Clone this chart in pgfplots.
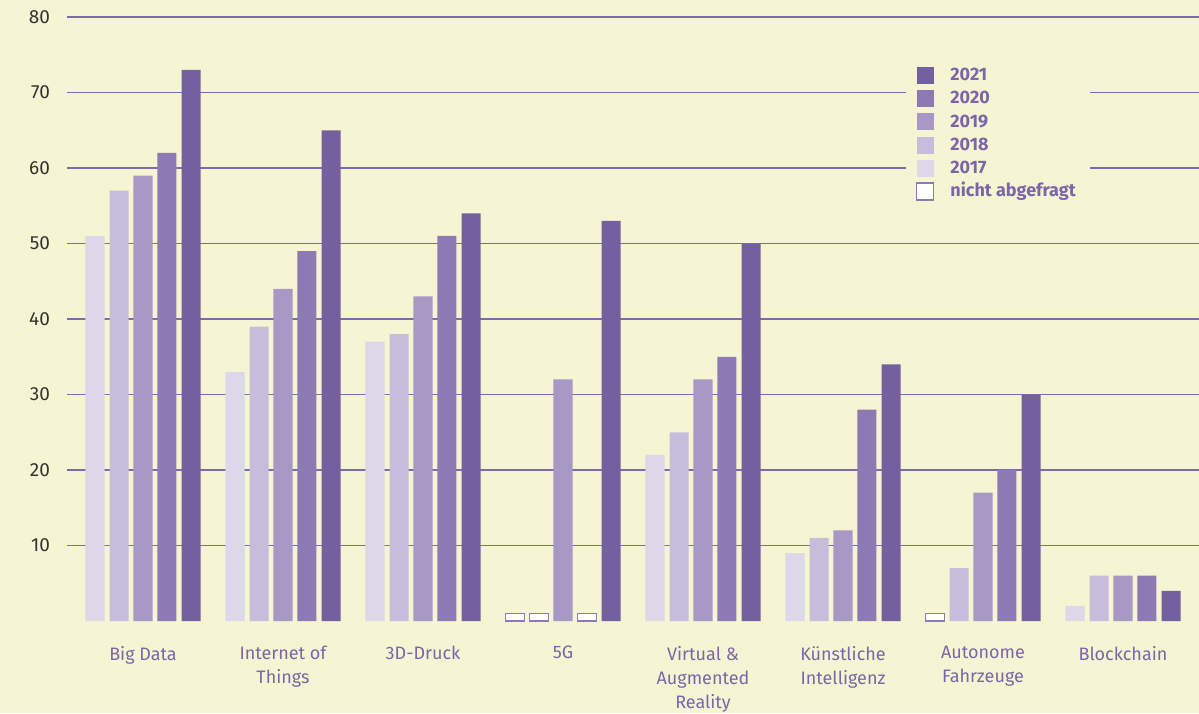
\documentclass[border=0pt]{standalone}
\usepackage{pgfplots}
\usepackage{pgfplotstable}
\pgfplotsset{compat=1.18}
\usepackage{fontspec}
\setmainfont{Fira Sans}
\usetikzlibrary{backgrounds,calc}

\definecolor{bg}{HTML}{F6F5D3}
\definecolor{c2017}{HTML}{DCD7E9}
\definecolor{c2018}{HTML}{C6BDDC}
\definecolor{c2019}{HTML}{A898C6}
\definecolor{c2020}{HTML}{8E7AB3}
\definecolor{c2021}{HTML}{74609F}
\definecolor{txt}{HTML}{7A66A8}
\definecolor{gridc}{HTML}{7D6BAE}
\definecolor{tickc}{HTML}{333333}

% values per technology (0 = Big Data ... 7 = Blockchain), nan = nicht abgefragt
\pgfplotstableread{
x y2017 y2018 y2019 y2020 y2021
0 51  57  59 62  73
1 33  39  44 49  65
2 37  38  43 51  54
3 nan nan 32 nan 53
4 22  25  32 35  50
5 9   11  12 28  34
6 nan 7   17 20  30
7 2   6   6  6   4
}\datatable

\pgfplotsset{
  sq/.style={legend image code/.code={
    \path[##1,/tikz/.cd] (0pt,-4.25pt) rectangle (8.5pt,4.25pt);}},
}

\begin{document}
\begin{tikzpicture}
\begin{axis}[
  scale only axis,
  width=566pt, height=302pt,
  xmin=-0.543, xmax=7.543, ymin=0, ymax=80,
  axis line style={draw=none},
  major tick length=0pt,
  ytick={10,20,...,80},
  ymajorgrids,
  grid style={gridc, line width=0.7pt},
  xtick={0,...,7},
  xticklabels={Big Data, {Internet of\\Things}, 3D-Druck, 5G,
    {Virtual \&\\Augmented\\Reality}, {Künstliche\\Intelligenz},
    {Autonome\\Fahrzeuge}, Blockchain},
  xticklabel style={align=center, text=txt,
    font=\fontsize{9}{12}\selectfont, yshift=-9pt},
  yticklabel style={text=tickc, font=\fontsize{9.5}{11}\selectfont, xshift=-5pt},
  /pgf/number format/assume math mode=true,
  ybar, bar shift=0pt, bar width=0.136,
  legend style={at={(0.741,0.934)}, anchor=north west, fill=bg, draw=none,
    font=\fontsize{9}{11}\selectfont\bfseries, text=txt,
    inner xsep=5pt, inner ysep=3pt, row sep=-0.6pt,
    nodes={inner ysep=1.5pt, text height=0.72em, text depth=0.2em},
    /tikz/every odd column/.append style={column sep=6pt}},
  legend cell align=left,
]
\addplot[sq, draw=none, fill=c2021] table[x expr=\coordindex+0.343, y=y2021] {\datatable};
\addplot[sq, draw=none, fill=c2020] table[x expr=\coordindex+0.171, y=y2020] {\datatable};
\addplot[sq, draw=none, fill=c2019] table[x expr=\coordindex, y=y2019] {\datatable};
\addplot[sq, draw=none, fill=c2018] table[x expr=\coordindex-0.171, y=y2018] {\datatable};
\addplot[sq, draw=none, fill=c2017] table[x expr=\coordindex-0.343, y=y2017] {\datatable};
\addplot[sq, draw=c2020, line width=0.6pt, fill=white] coordinates {
  (2.657,1) (2.829,1) (3.171,1) (5.657,1)
};
\legend{2021,2020,2019,2018,2017,nicht abgefragt}
\end{axis}
\pgfresetboundingbox
\useasboundingbox ($(current axis.south west)+(-33.5pt,-46pt)$) rectangle ($(current axis.south west)+(566pt,310.5pt)$);
\begin{pgfonlayer}{background}
\fill[bg] ($(current axis.south west)+(-33.5pt,-46pt)$) rectangle ($(current axis.south west)+(566pt,310.5pt)$);
\end{pgfonlayer}
\end{tikzpicture}
\end{document}
